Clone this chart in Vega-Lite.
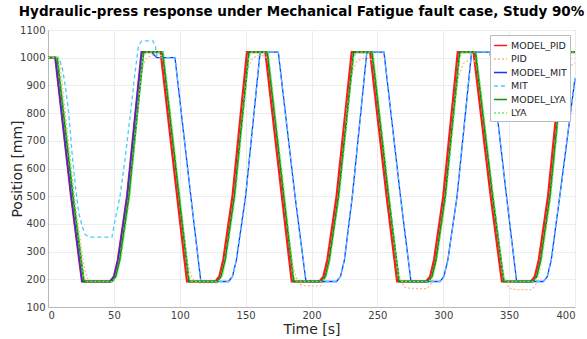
{
  "$schema": "https://vega.github.io/schema/vega-lite/v6.json",
  "autosize": {"type": "none"},
  "width": 527,
  "height": 277,
  "padding": {"left": 48, "top": 30, "right": 12, "bottom": 32},
  "title": {"text": "Hydraulic-press response under Mechanical Fatigue fault case, Study 90%", "font": "DejaVu Sans", "fontSize": 13.5, "fontWeight": "bold", "color": "#000", "anchor": "middle", "dx": -10, "offset": 7},
  "config": {
    "font": "DejaVu Sans",
    "view": {"stroke": "#b8b8b8", "strokeWidth": 1},
    "axis": {"domainColor": "#b8b8b8", "gridColor": "#ececec", "ticks": false, "labelFont": "DejaVu Sans", "labelFontSize": 10, "labelColor": "#404040", "titleFont": "DejaVu Sans", "titleFontSize": 14, "titleFontWeight": "normal", "titleColor": "#262626"},
    "legend": {"orient": "top-right", "offset": 5, "fillColor": "white", "strokeColor": "#bbbbbb", "padding": 3, "labelFontSize": 9.5, "labelFont": "DejaVu Sans", "labelColor": "#262626", "symbolType": "stroke", "symbolSize": 169, "symbolStrokeWidth": 1.5, "rowPadding": 1.5, "labelOffset": 3, "title": null}
  },
  "datasets": {
    "MODEL_PID": [
      {"t":0,"v":1000},{"t":5.5,"v":1000},{"t":17.5,"v":500},{"t":25.8,"v":192},{"t":47,"v":192},{"t":50,"v":210},{"t":53,"v":270},{"t":60,"v":500},{"t":71,"v":1020},
      {"t":85.5,"v":1020},{"t":98,"v":500},{"t":105.5,"v":192},{"t":127,"v":192},{"t":130,"v":210},{"t":133,"v":270},{"t":140,"v":500},{"t":151,"v":1020},
      {"t":165,"v":1020},{"t":177.5,"v":500},{"t":185,"v":192},{"t":206,"v":192},{"t":209,"v":210},{"t":212,"v":270},{"t":219,"v":500},{"t":230.5,"v":1020},
      {"t":244.5,"v":1020},{"t":257,"v":500},{"t":265,"v":192},{"t":287,"v":192},{"t":290,"v":210},{"t":293,"v":270},{"t":300,"v":500},{"t":311,"v":1020},
      {"t":323,"v":1020},{"t":336,"v":500},{"t":344.5,"v":192},{"t":366.5,"v":192},{"t":369.5,"v":210},{"t":372.5,"v":270},{"t":379.5,"v":500},{"t":390.5,"v":1020},{"t":400,"v":1020}
    ],
    "PID": [
      {"t":0,"v":1000},{"t":7,"v":1000},{"t":9,"v":985},{"t":20,"v":500},{"t":26,"v":290},{"t":28,"v":230},{"t":30,"v":203},{"t":32,"v":193},{"t":47.5,"v":192},
      {"t":48.5,"v":192},{"t":51,"v":208},{"t":54,"v":262},{"t":61.5,"v":490},{"t":68,"v":820},{"t":71,"v":950},{"t":74,"v":995},{"t":78,"v":1008},{"t":85,"v":1010},
      {"t":87,"v":1005},{"t":89,"v":960},{"t":100,"v":490},{"t":106,"v":260},{"t":108.5,"v":215},{"t":111,"v":192},{"t":115,"v":187},{"t":127,"v":187},
      {"t":128,"v":188},{"t":131,"v":205},{"t":134,"v":262},{"t":141.5,"v":490},{"t":148,"v":820},{"t":151,"v":945},{"t":154,"v":990},{"t":158,"v":1006},{"t":163,"v":1008},
      {"t":166.5,"v":1000},{"t":168.5,"v":960},{"t":179.5,"v":490},{"t":185.5,"v":260},{"t":188,"v":210},{"t":191,"v":182},{"t":195,"v":177},{"t":206,"v":176},
      {"t":207,"v":177},{"t":210,"v":195},{"t":213,"v":255},{"t":220.5,"v":485},{"t":227,"v":820},{"t":230.5,"v":940},{"t":234,"v":985},{"t":238,"v":997},{"t":243,"v":998},
      {"t":246,"v":992},{"t":248,"v":955},{"t":259,"v":490},{"t":265,"v":255},{"t":267.5,"v":200},{"t":270.5,"v":172},{"t":275,"v":167},{"t":287,"v":166},
      {"t":288,"v":167},{"t":291,"v":186},{"t":294,"v":245},{"t":301.5,"v":480},{"t":308,"v":810},{"t":311.5,"v":930},{"t":315,"v":978},{"t":319,"v":990},{"t":323,"v":991},
      {"t":324.5,"v":985},{"t":326.5,"v":950},{"t":338,"v":490},{"t":344.5,"v":250},{"t":347,"v":195},{"t":350,"v":168},{"t":355,"v":163},{"t":366.5,"v":163},
      {"t":367.5,"v":164},{"t":370.5,"v":183},{"t":373.5,"v":240},{"t":381,"v":475},{"t":387.5,"v":800},{"t":391,"v":915},{"t":395,"v":965},{"t":400,"v":982}
    ],
    "MODEL_MIT": [
      {"t":0,"v":1000},{"t":5.5,"v":1000},{"t":17.5,"v":500},{"t":25.8,"v":192},{"t":47,"v":192},{"t":50,"v":210},{"t":53,"v":270},{"t":60,"v":500},{"t":71,"v":1020},
      {"t":78.7,"v":1020},{"t":82.5,"v":1000},{"t":96.4,"v":1000},{"t":108.4,"v":500},{"t":116,"v":192},
      {"t":137,"v":192},{"t":140,"v":210},{"t":143,"v":270},{"t":150,"v":500},{"t":161,"v":1020},
      {"t":174.8,"v":1020},{"t":187.5,"v":500},{"t":195.8,"v":192},
      {"t":219,"v":192},{"t":222,"v":210},{"t":225,"v":270},{"t":231,"v":500},{"t":242,"v":1020},
      {"t":255,"v":1020},{"t":267.5,"v":500},{"t":275.5,"v":192},
      {"t":297.5,"v":192},{"t":300.5,"v":210},{"t":303.5,"v":270},{"t":310.5,"v":500},{"t":321.5,"v":1020},
      {"t":335.5,"v":1020},{"t":348,"v":500},{"t":355.7,"v":192},
      {"t":376,"v":192},{"t":379,"v":210},{"t":382,"v":270},{"t":389,"v":520},{"t":400,"v":925}
    ],
    "MIT": [
      {"t":0,"v":1000},{"t":8,"v":1000},{"t":10.7,"v":968},{"t":13.2,"v":896},{"t":15.7,"v":800},{"t":18.3,"v":655},{"t":20.8,"v":535},{"t":23.4,"v":439},{"t":25.9,"v":391},{"t":28.4,"v":361},{"t":31,"v":352},
      {"t":48.5,"v":352},{"t":50.9,"v":414},{"t":54.6,"v":498},{"t":58.4,"v":631},{"t":62,"v":775},{"t":66,"v":944},{"t":68.6,"v":1040},{"t":71,"v":1061},{"t":79.6,"v":1061},{"t":81.6,"v":1040},{"t":82.6,"v":1000},
      {"t":96.4,"v":1000},{"t":108.4,"v":500},{"t":116,"v":192},
      {"t":137,"v":192},{"t":140,"v":210},{"t":143,"v":270},{"t":150,"v":500},{"t":161,"v":1020},
      {"t":174.8,"v":1020},{"t":187.5,"v":500},{"t":195.8,"v":192},
      {"t":219,"v":192},{"t":222,"v":210},{"t":225,"v":270},{"t":231,"v":500},{"t":242,"v":1020},
      {"t":255,"v":1020},{"t":267.5,"v":500},{"t":275.5,"v":192},
      {"t":297.5,"v":192},{"t":300.5,"v":210},{"t":303.5,"v":270},{"t":310.5,"v":500},{"t":321.5,"v":1020},
      {"t":335.5,"v":1020},{"t":348,"v":500},{"t":355.7,"v":192},
      {"t":376,"v":192},{"t":379,"v":210},{"t":382,"v":270},{"t":389,"v":520},{"t":400,"v":925}
    ],
    "MODEL_LYA": [
      {"t":0,"v":1000},{"t":7,"v":1000},{"t":19,"v":500},{"t":27.3,"v":192},{"t":48.5,"v":192},{"t":51.5,"v":210},{"t":54.5,"v":270},{"t":61.5,"v":500},{"t":72.5,"v":1020},
      {"t":87,"v":1020},{"t":99.5,"v":500},{"t":107,"v":192},{"t":128.5,"v":192},{"t":131.5,"v":210},{"t":134.5,"v":270},{"t":141.5,"v":500},{"t":152.5,"v":1020},
      {"t":166.5,"v":1020},{"t":179,"v":500},{"t":186.5,"v":192},{"t":207.5,"v":192},{"t":210.5,"v":210},{"t":213.5,"v":270},{"t":220.5,"v":500},{"t":232,"v":1020},
      {"t":246,"v":1020},{"t":258.5,"v":500},{"t":266.5,"v":192},{"t":288.5,"v":192},{"t":291.5,"v":210},{"t":294.5,"v":270},{"t":301.5,"v":500},{"t":312.5,"v":1020},
      {"t":324.5,"v":1020},{"t":337.5,"v":500},{"t":346,"v":192},{"t":368,"v":192},{"t":371,"v":210},{"t":374,"v":270},{"t":381,"v":500},{"t":392,"v":1020},{"t":400,"v":1020}
    ],
    "LYA": [
      {"t":0,"v":1000},{"t":7.5,"v":1000},{"t":19.7,"v":500},{"t":26.8,"v":215},{"t":28.5,"v":194},{"t":30,"v":192},
      {"t":49.2,"v":192},{"t":52.2,"v":210},{"t":55.2,"v":270},{"t":62.2,"v":500},{"t":72,"v":1000},{"t":74,"v":1020},
      {"t":87.7,"v":1020},{"t":100.2,"v":500},{"t":106.8,"v":215},{"t":108.5,"v":194},{"t":110,"v":192},
      {"t":129.2,"v":192},{"t":132.2,"v":210},{"t":135.2,"v":270},{"t":142.2,"v":500},{"t":152.5,"v":1000},{"t":154.5,"v":1020},
      {"t":167.2,"v":1020},{"t":179.7,"v":500},{"t":186.3,"v":215},{"t":188,"v":194},{"t":189.5,"v":192},
      {"t":208.2,"v":192},{"t":211.2,"v":210},{"t":214.2,"v":270},{"t":221.2,"v":500},{"t":232,"v":1000},{"t":234,"v":1020},
      {"t":246.7,"v":1020},{"t":259.2,"v":500},{"t":265.8,"v":215},{"t":267.5,"v":194},{"t":269,"v":192},
      {"t":289.2,"v":192},{"t":292.2,"v":210},{"t":295.2,"v":270},{"t":302.2,"v":500},{"t":312.5,"v":1000},{"t":314.5,"v":1020},
      {"t":325.2,"v":1020},{"t":338.2,"v":500},{"t":345.5,"v":215},{"t":347.2,"v":194},{"t":348.7,"v":192},
      {"t":368.7,"v":192},{"t":371.7,"v":210},{"t":374.7,"v":270},{"t":381.7,"v":500},{"t":392,"v":1000},{"t":394,"v":1020},{"t":400,"v":1020}
    ]
  },
  "encoding": {
    "x": {"field": "t", "type": "quantitative", "title": "Time [s]", "scale": {"domain": [0, 400], "nice": false}, "axis": {"values": [0,50,100,150,200,250,300,350,400], "format": "d", "labelPadding": 3, "titlePadding": 2}},
    "y": {"field": "v", "type": "quantitative", "title": "Position [mm]", "scale": {"domain": [100, 1100], "nice": false}, "axis": {"values": [100,200,300,400,500,600,700,800,900,1000,1100], "format": "d", "labelPadding": 3, "titleX": -24, "titleY": 138.5, "titleBaseline": "bottom", "titleAlign": "center", "titleAngle": -90}},
    "color": {"field": "s", "type": "nominal", "scale": {"domain": ["MODEL_PID","PID","MODEL_MIT","MIT","MODEL_LYA","LYA"], "range": ["#ff1a1a","#fdb98c","#1f2fff","#40d0ff","#138f13","#5cf05c"]}},
    "strokeDash": {"field": "s", "type": "nominal", "scale": {"domain": ["MODEL_PID","PID","MODEL_MIT","MIT","MODEL_LYA","LYA"], "range": [[1,0],[2,2],[1,0],[4,3],[1,0],[2,2]]}}
  },
  "layer": [
    {"data": {"name": "MODEL_PID"}, "transform": [{"calculate": "'MODEL_PID'", "as": "s"}], "mark": {"type": "line", "strokeWidth": 2.2}},
    {"data": {"name": "PID"}, "transform": [{"calculate": "'PID'", "as": "s"}], "mark": {"type": "line", "strokeWidth": 1.3}},
    {"data": {"name": "MODEL_MIT"}, "transform": [{"calculate": "'MODEL_MIT'", "as": "s"}], "mark": {"type": "line", "strokeWidth": 1.3}},
    {"data": {"name": "MIT"}, "transform": [{"calculate": "'MIT'", "as": "s"}], "mark": {"type": "line", "strokeWidth": 1.3}},
    {"data": {"name": "MODEL_LYA"}, "transform": [{"calculate": "'MODEL_LYA'", "as": "s"}], "mark": {"type": "line", "strokeWidth": 1.8}},
    {"data": {"name": "LYA"}, "transform": [{"calculate": "'LYA'", "as": "s"}], "mark": {"type": "line", "strokeWidth": 1.2}}
  ]
}
